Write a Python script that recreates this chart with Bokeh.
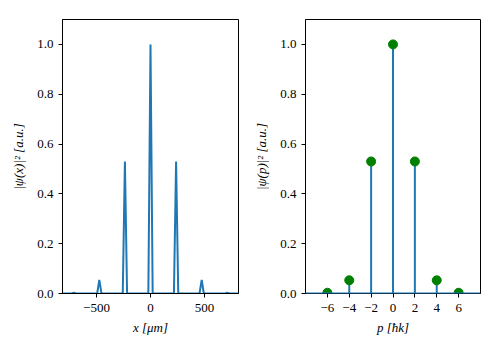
from bokeh.plotting import figure
from bokeh.layouts import row
from bokeh.models import Range1d, FixedTicker, Span
from bokeh.embed import file_html
from bokeh.resources import INLINE

# position-space density |psi(x)|^2 (vertices of the sampled curve)
x_pos = [-810, -731, -711, -691, -494, -474, -454, -257, -237, -217,
         -20, 0, 20, 217, 237, 257, 454, 474, 494, 691, 711, 731, 810]
psi_x = [0, 0, 0.003, 0, 0, 0.055, 0, 0, 0.53, 0,
         0, 1.0, 0, 0, 0.53, 0, 0, 0.055, 0, 0, 0.003, 0, 0]

# momentum-space populations
p_orders = [-6, -4, -2, 0, 2, 4, 6]
pop = [0.003, 0.053, 0.53, 1.0, 0.53, 0.053, 0.003]

x_ticks = [-500, 0, 500]
x_tick_labels = ["\u2212500", "0", "500"]
p_ticks = [-6, -4, -2, 0, 2, 4, 6]
p_tick_labels = ["\u22126", "\u22124", "\u22122", "0", "2", "4", "6"]
y_ticks = [0.0, 0.2, 0.4, 0.6, 0.8, 1.0]
y_tick_labels = ["0.0", "0.2", "0.4", "0.6", "0.8", "1.0"]

BLUE = "#1f77b4"
FONT = "'Liberation Serif', 'DejaVu Serif', serif"


def style(f, xt, xl, xlabel, ylabel):
    f.grid.visible = False
    f.outline_line_color = "black"
    f.outline_line_width = 1
    f.outline_line_alpha = 1
    f.xaxis.ticker = FixedTicker(ticks=xt)
    f.xaxis.major_label_overrides = dict(zip(xt, xl))
    f.yaxis.ticker = FixedTicker(ticks=y_ticks)
    f.yaxis.major_label_overrides = dict(zip(y_ticks, y_tick_labels))
    for ax in (f.xaxis[0], f.yaxis[0]):
        ax.axis_line_color = "black"
        ax.major_tick_line_color = "black"
        ax.major_tick_out = 4
        ax.major_tick_in = 0
        ax.minor_tick_line_color = None
        ax.major_label_text_font = FONT
        ax.major_label_text_font_size = "13px"
        ax.major_label_text_color = "black"
        ax.axis_label_text_font = FONT
        ax.axis_label_text_font_size = "13px"
        ax.axis_label_text_font_style = "italic"
        ax.axis_label_text_color = "black"
    f.xaxis.axis_label = xlabel
    f.yaxis.axis_label = ylabel
    f.xaxis.major_label_standoff = 6
    f.yaxis.major_label_standoff = 5
    f.xaxis.axis_label_standoff = 5
    f.yaxis.axis_label_standoff = 8


p1 = figure(width=250, height=345, output_backend="svg", toolbar_location=None,
            x_range=Range1d(-815, 815), y_range=Range1d(0, 1.1),
            min_border_left=62, min_border_right=12, min_border_top=19,
            min_border_bottom=52)
p1.line(x_pos, psi_x, line_color=BLUE, line_width=2)
style(p1, x_ticks, x_tick_labels, "x [\u03bcm]", "|\u03c8(x)|\u00b2 [a.u.]")

p2 = figure(width=250, height=345, output_backend="svg", toolbar_location=None,
            x_range=Range1d(-8, 8), y_range=Range1d(0, 1.1),
            min_border_left=55, min_border_right=20, min_border_top=19,
            min_border_bottom=52)
p2.add_layout(Span(location=0, dimension="width", line_color=BLUE, line_width=2))
p2.segment(x0=p_orders, y0=[0] * len(p_orders), x1=p_orders, y1=pop,
           line_color=BLUE, line_width=2)
p2.scatter(p_orders, pop, size=9, fill_color="green", line_color="green")
style(p2, p_ticks, p_tick_labels, "p [\u0127k]", "|\u03c8(p)|\u00b2 [a.u.]")

layout = row(p1, p2)
open("out.html", "w").write(file_html(layout, INLINE))
